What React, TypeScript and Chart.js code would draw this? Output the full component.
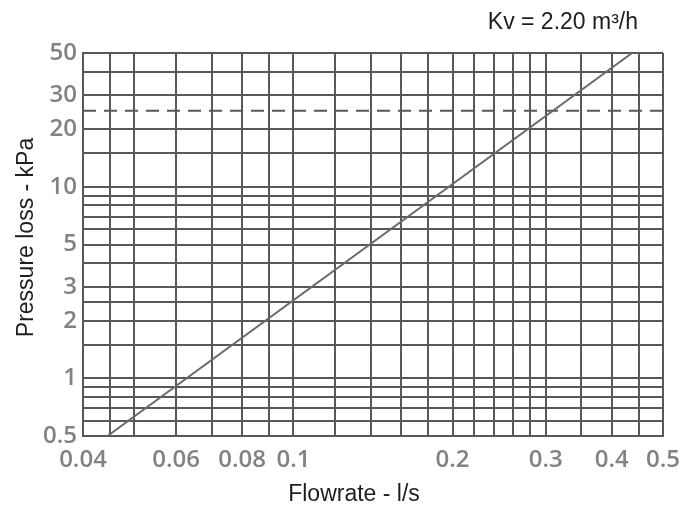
import React, { useEffect, useRef } from "react";
import { Chart, registerables } from "chart.js";

Chart.register(...registerables);

// Kv = 2.20 m³/h characteristic
const flowrate = [0.0445, 0.437]; // l/s
const pressureLoss = [0.5, 50]; // kPa
const dashedLevel = 25; // kPa
const xRange = [0.04, 0.5];
const yRange = [0.5, 50];

const xGridValues = [0.04, 0.045, 0.05, 0.06, 0.07, 0.08, 0.09, 0.1, 0.12, 0.14, 0.16, 0.18, 0.2, 0.22, 0.24, 0.26, 0.28, 0.3, 0.35, 0.4, 0.45, 0.5];
const yGridValues = [0.5, 0.6, 0.7, 0.8, 0.9, 1, 1.5, 2, 2.5, 3, 4, 5, 6, 7, 8, 9, 10, 15, 20, 30, 40, 50];
const xTickLabels = ["0.04", "0.06", "0.08", "0.1", "0.2", "0.3", "0.4", "0.5"];
const yTickLabels = ["0.5", "1", "2", "3", "5", "10", "20", "30", "50"];

const kvText = "Kv = 2.20 m³/h";
const xTitle = "Flowrate - l/s";
const yTitle = "Pressure loss - kPa";

const GRID = "#585858";
const TICK = "#828282";
const TICK_FONT = { family: "'Open Sans', 'Noto Sans', sans-serif", size: 24, weight: "600" };

const labelPlugin = {
  id: "labels",
  afterDraw(chart: any) {
    const { ctx, chartArea } = chart;
    const { left, right, top, bottom } = chartArea;
    ctx.save();
    ctx.fillStyle = "#1e1e1e";
    ctx.font = "23px 'Liberation Sans', Arial, sans-serif";
    ctx.textBaseline = "alphabetic";
    // Kv
    ctx.textAlign = "right";
    ctx.fillText(kvText, right - 25, top - 24);
    // x title
    ctx.textAlign = "center";
    ctx.fillText(xTitle, (left + right) / 2 - 19, bottom + 65);
    // y title
    ctx.translate(left - 50, (top + bottom) / 2 - 7);
    ctx.rotate(-Math.PI / 2);
    ctx.fillText(yTitle, 0, 0);
    ctx.restore();
  },
};

export default function App() {
  const ref = useRef<HTMLCanvasElement | null>(null);

  useEffect(() => {
    if (!ref.current) return;
    const fmt = (v: number) => String(Number(v.toPrecision(6)));
    const chart = new Chart(ref.current, {
      type: "line",
      data: {
        datasets: [
          {
            data: flowrate.map((x, i) => ({ x, y: pressureLoss[i] })),
            borderColor: "#6a6a6a",
            borderWidth: 2,
            pointRadius: 0,
            fill: false,
          },
          {
            data: xRange.map((x) => ({ x, y: dashedLevel })),
            borderColor: GRID,
            borderWidth: 2,
            borderDash: [13, 8],
            pointRadius: 0,
            fill: false,
          },
        ],
      },
      options: {
        responsive: true,
        maintainAspectRatio: false,
        animation: false,
        layout: { padding: { top: 53, right: 20, left: 0, bottom: 0 } },
        plugins: {
          legend: { display: false },
          tooltip: { enabled: false },
          title: { display: false },
        },
        scales: {
          x: {
            type: "logarithmic",
            min: xRange[0],
            max: xRange[1],
            afterBuildTicks: (scale: any) => {
              scale.ticks = xGridValues.map((v) => ({ value: v }));
            },
            afterFit: (scale: any) => {
              scale.height = 69;
              scale.paddingLeft = 0;
              scale.paddingRight = 0;
            },
            grid: { color: GRID, lineWidth: 2, drawTicks: false },
            border: { color: GRID, width: 2 },
            ticks: {
              autoSkip: false,
              maxRotation: 0,
              padding: 10,
              color: TICK,
              font: TICK_FONT,
              callback: (v: any) => {
                const s = fmt(Number(v));
                return xTickLabels.includes(s) ? s : "";
              },
            },
          },
          y: {
            type: "logarithmic",
            min: yRange[0],
            max: yRange[1],
            afterBuildTicks: (scale: any) => {
              scale.ticks = yGridValues.map((v) => ({ value: v }));
            },
            afterFit: (scale: any) => {
              scale.width = 83;
              scale.paddingTop = 0;
              scale.paddingBottom = 0;
            },
            grid: { color: GRID, lineWidth: 2, drawTicks: false },
            border: { color: GRID, width: 2 },
            ticks: {
              autoSkip: false,
              padding: 6,
              color: TICK,
              font: TICK_FONT,
              callback: (v: any) => {
                const s = fmt(Number(v));
                return yTickLabels.includes(s) ? s : "";
              },
            },
          },
        },
      },
      plugins: [labelPlugin],
    } as any);
    return () => chart.destroy();
  }, []);

  return (
    <div style={{ position: "fixed", left: 0, top: 0, width: 683, height: 505, background: "#fff" }}>
      <canvas ref={ref} />
    </div>
  );
}
